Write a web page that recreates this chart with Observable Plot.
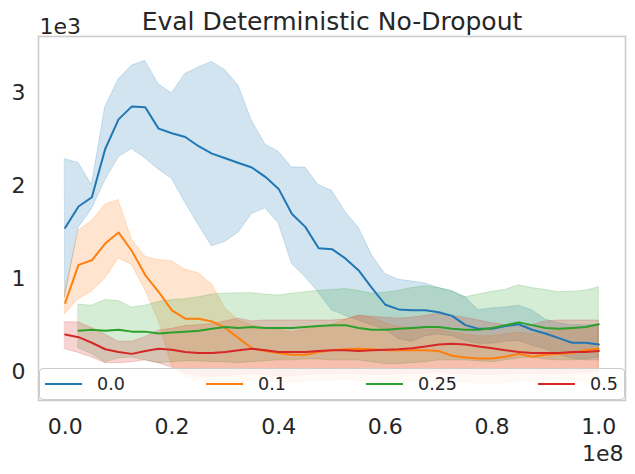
<!DOCTYPE html>
<html>
<head>
<meta charset="utf-8">
<script src="https://cdn.jsdelivr.net/npm/d3@7"></script>
<script src="https://cdn.jsdelivr.net/npm/@observablehq/plot@0.6"></script>
<style>
  html, body { margin: 0; padding: 0; background: white; }
  #wrap { position: relative; width: 635px; height: 474px; font-family: "DejaVu Sans", sans-serif; color: #262626; }
  #legend { position: absolute; left: 39px; top: 368px; width: 586px; height: 32px; box-sizing: border-box;
            background: rgba(255,255,255,0.8); border: 1px solid #cccccc; border-radius: 4px; }
  .item { position: absolute; top: 0; height: 30px; display: flex; align-items: center; }
  .handle { width: 37px; height: 2px; }
  .lab { margin-left: 15px; font-size: 17.5px; color: #262626; }
</style>
</head>
<body>
<div id="wrap">
  <div id="chart"></div>
  <div id="legend"></div>
</div>
<script>
const title = "Eval Deterministic No-Dropout";
const labels = ["0.0", "0.1", "0.25", "0.5"];
const colors = ["#1f77b4", "#ff7f0e", "#2ca02c", "#d62728"];
const xTicks = [0, 2e7, 4e7, 6e7, 8e7, 1e8];
const yTicks = [0, 1000, 2000, 3000];

// training steps, in millions
const stepsM = [0,2.5,5,7.5,10,12.5,15,17.5,20,22.5,25,27.5,30,32.5,35,37.5,40,42.5,45,47.5,50,52.5,55,57.5,60,62.5,65,67.5,70,72.5,75,77.5,80,82.5,85,87.5,90,92.5,95,97.5,100];

const blueMean = [1550,1780,1880,2400,2720,2860,2850,2620,2570,2530,2430,2350,2300,2250,2200,2100,1970,1700,1560,1330,1320,1220,1090,900,720,670,660,660,640,600,500,460,460,490,510,450,410,360,310,310,290];
const blueHi   = [2290,2250,2010,2850,3150,3300,3350,3100,3000,3210,3280,3340,3250,3080,2700,2450,2370,2200,2200,2010,1950,1720,1550,1250,1050,990,970,950,900,860,800,660,680,690,710,660,560,520,500,500,500];
const blueLo   = [800,1550,1750,2060,2310,2400,2300,2180,2080,1820,1580,1350,1400,1500,1700,1760,1600,1160,1020,850,660,600,550,500,450,350,320,380,400,380,330,300,300,320,330,280,240,180,140,120,120];

const orangeMean = [740,1150,1200,1380,1500,1300,1040,860,660,570,570,540,470,360,250,220,200,180,180,210,230,240,245,240,230,230,230,230,220,170,150,140,140,160,190,160,180,190,200,230,245];
const orangeHi   = [870,1520,1620,1800,1850,1420,1240,1200,1190,1100,1060,940,680,550,500,470,450,420,450,480,500,560,600,580,520,480,470,450,450,420,400,380,380,400,420,400,420,440,450,480,500];
const orangeLo   = [620,780,860,1000,1220,1150,880,550,60,-60,-100,-120,-120,-120,-100,-100,-110,-120,-110,-100,-100,-90,-100,-110,-120,-120,-110,-100,-100,-110,-120,-130,-130,-120,-110,-110,-120,-120,-110,-100,-100];

const greenMean = [null,440,450,440,450,430,430,410,420,430,440,460,480,470,480,470,470,470,480,490,500,500,470,450,450,460,470,480,480,460,450,450,470,500,530,500,470,460,470,480,510];
const greenHi   = [null,720,710,770,760,690,710,750,770,780,800,830,840,845,845,830,820,840,855,870,880,890,870,840,850,870,900,920,900,870,800,830,860,880,930,900,880,855,860,870,910];
const greenLo   = [null,250,190,100,140,150,120,90,100,110,110,100,100,90,100,110,120,120,130,130,120,120,120,100,80,80,90,100,120,120,120,110,100,120,140,150,130,120,120,130,150];

const redMean = [400,370,310,240,210,190,220,245,235,210,200,200,210,230,245,230,210,210,210,220,230,230,220,230,235,240,250,270,290,300,290,270,250,230,210,200,200,200,210,210,220];
const redHi   = [530,530,470,400,320,320,370,440,460,490,500,510,540,570,540,550,550,550,550,550,550,560,600,590,580,570,580,600,620,600,580,550,520,500,480,500,540,550,550,550,550];
const redLo   = [240,200,150,90,90,100,120,90,40,-20,-50,-60,-50,-40,-30,-40,-50,-50,-40,-30,-30,-20,-30,-40,-40,-30,-20,-20,-10,-20,-30,-40,-40,-30,-20,-20,-30,-30,-20,-10,-10];

const seriesData = [
  [labels[0], blueMean, blueLo, blueHi],
  [labels[1], orangeMean, orangeLo, orangeHi],
  [labels[2], greenMean, greenLo, greenHi],
  [labels[3], redMean, redLo, redHi]
];

const table = [];
for (const [name, mean, lo, hi] of seriesData) {
  stepsM.forEach((s, i) => {
    table.push({series: name, x: s * 1e6, mean: mean[i], lo: lo[i], hi: hi[i]});
  });
}

const plot = Plot.plot({
  width: 635,
  height: 474,
  marginLeft: 38,
  marginRight: 10,
  marginTop: 36,
  marginBottom: 74,
  style: {fontFamily: "'DejaVu Sans', sans-serif", fontSize: "22px", color: "#262626", background: "white"},
  x: {domain: [-5e6, 105e6]},
  y: {domain: [-313, 3614]},
  color: {domain: labels, range: colors},
  marks: [
    Plot.areaY(table, {x: "x", y1: "lo", y2: "hi", z: "series", fill: "series", fillOpacity: 0.2,
                       stroke: "series", strokeOpacity: 0.2, strokeWidth: 1}),
    Plot.lineY(table, {x: "x", y: "mean", z: "series", stroke: "series", strokeWidth: 2}),
    Plot.frame({stroke: "#cccccc", strokeWidth: 1.6}),
    Plot.axisX({ticks: xTicks, tickFormat: d => (d / 1e8).toFixed(1), tickSize: 0, tickPadding: 18, label: null, fontSize: 22}),
    Plot.axisY({ticks: yTicks, tickFormat: d => String(d / 1000), tickSize: 0, tickPadding: 13, label: null, fontSize: 22}),
    Plot.text([title], {text: d => d, frameAnchor: "top", lineAnchor: "bottom", dy: -7, fontSize: 25}),
    Plot.text(["1e3"], {text: d => d, frameAnchor: "top-left", textAnchor: "start", lineAnchor: "bottom", dy: -3, dx: 1, fontSize: 22}),
    Plot.text(["1e8"], {text: d => d, frameAnchor: "bottom-right", textAnchor: "end", lineAnchor: "bottom", dy: 60.5, dx: -2, fontSize: 22})
  ]
});
document.getElementById("chart").appendChild(plot);

// legend (matplotlib-style, 4 columns inside the axes)
const colLeft = [5, 166, 326, 498];
const legend = document.getElementById("legend");
labels.forEach((l, i) => {
  const item = document.createElement("div");
  item.className = "item";
  item.style.left = colLeft[i] + "px";
  const h = document.createElement("div");
  h.className = "handle";
  h.style.background = colors[i];
  const t = document.createElement("span");
  t.className = "lab";
  t.textContent = l;
  item.appendChild(h);
  item.appendChild(t);
  legend.appendChild(item);
});
</script>
</body>
</html>
